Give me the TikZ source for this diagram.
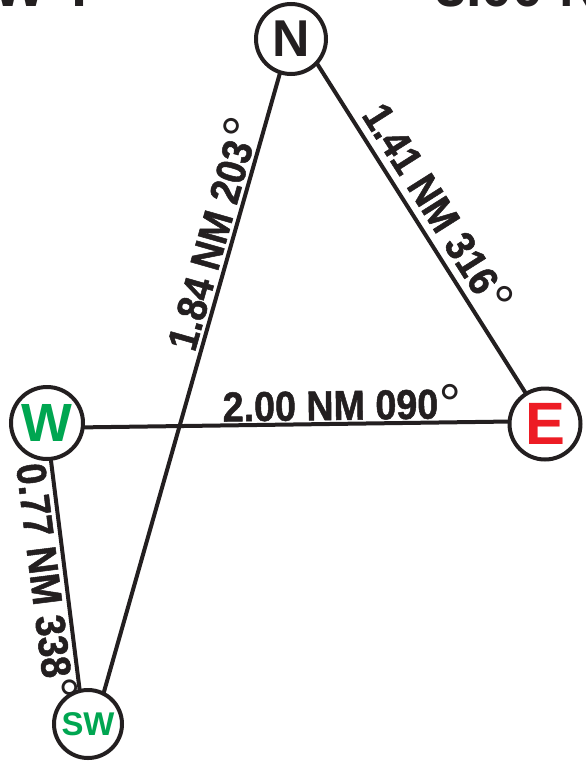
\documentclass[tikz,border=0pt]{standalone}
\usepackage{fontspec}
\setmainfont{Liberation Sans}
\newfontfamily\lblfont[FakeStretch=0.9,FakeBold=1.2]{Liberation Sans Bold}
\definecolor{ink}{HTML}{231F20}
\definecolor{ered}{HTML}{ED1C24}
\definecolor{wgreen}{HTML}{00A651}
\newcommand\dgr{\rlap{\kern1bp\smash{\raisebox{-5bp}{\fontsize{56}{56}\selectfont\rmfamily\mdseries °}}}}
\begin{document}
\begin{tikzpicture}[x=1bp,y=-1bp,
  stn/.style={circle,draw=ink,line width=4bp,inner sep=0pt,outer sep=0pt,fill=white,font=\bfseries},
  leg/.style={draw=ink,line width=4bp},
  dist/.style={sloped,inner xsep=0pt,outer sep=0pt,text=ink,font=\fontsize{42}{42}\selectfont\lblfont},
  frag/.style={inner sep=0pt,outer sep=0pt,text=ink,font=\fontsize{56}{56}\selectfont\bfseries}]
\useasboundingbox (0,0) rectangle (586,761);
\begin{scope}
\clip (0,0) rectangle (586,761);
\node[frag,anchor=base west] (t1) at (-6,7) {W T};
\node[frag,anchor=base west] (t2) at (435,7) {3.00 N};
\end{scope}
\node[stn,minimum size=70bp,text=ink,font=\fontsize{52}{52}\selectfont\bfseries] (N) at (291,39) {N};
\node[stn,minimum size=71bp,text=ered,font=\fontsize{60}{60}\selectfont\bfseries] (E) at (545,424) {E};
\node[stn,minimum size=72bp,text=wgreen,font=\fontsize{54}{54}\selectfont\bfseries] (W) at (47,423) {W};
\node[stn,minimum size=68bp,text=wgreen,font=\fontsize{33}{33}\selectfont\bfseries] (SW) at (88,724) {SW};
\draw[leg] (N.317) -- node[dist,above,inner ysep=9bp,pos=0.449] (lNE) {1.41 NM 316\dgr} (E.122);
\draw[leg] (W.-7) -- node[dist,above,inner ysep=3.5bp,pos=0.581] (lWE) {2.00 NM 090\dgr} (E.176);
\draw[leg] (SW.63) -- node[dist,above,inner ysep=5bp,pos=0.713] (lSN) {1.84 NM 203\dgr} (N.252);
\draw[leg] (W.276) -- node[dist,below,inner ysep=6bp,pos=0.47] (lWS) {0.77 NM 338\dgr} (SW.104);
\end{tikzpicture}
\end{document}
